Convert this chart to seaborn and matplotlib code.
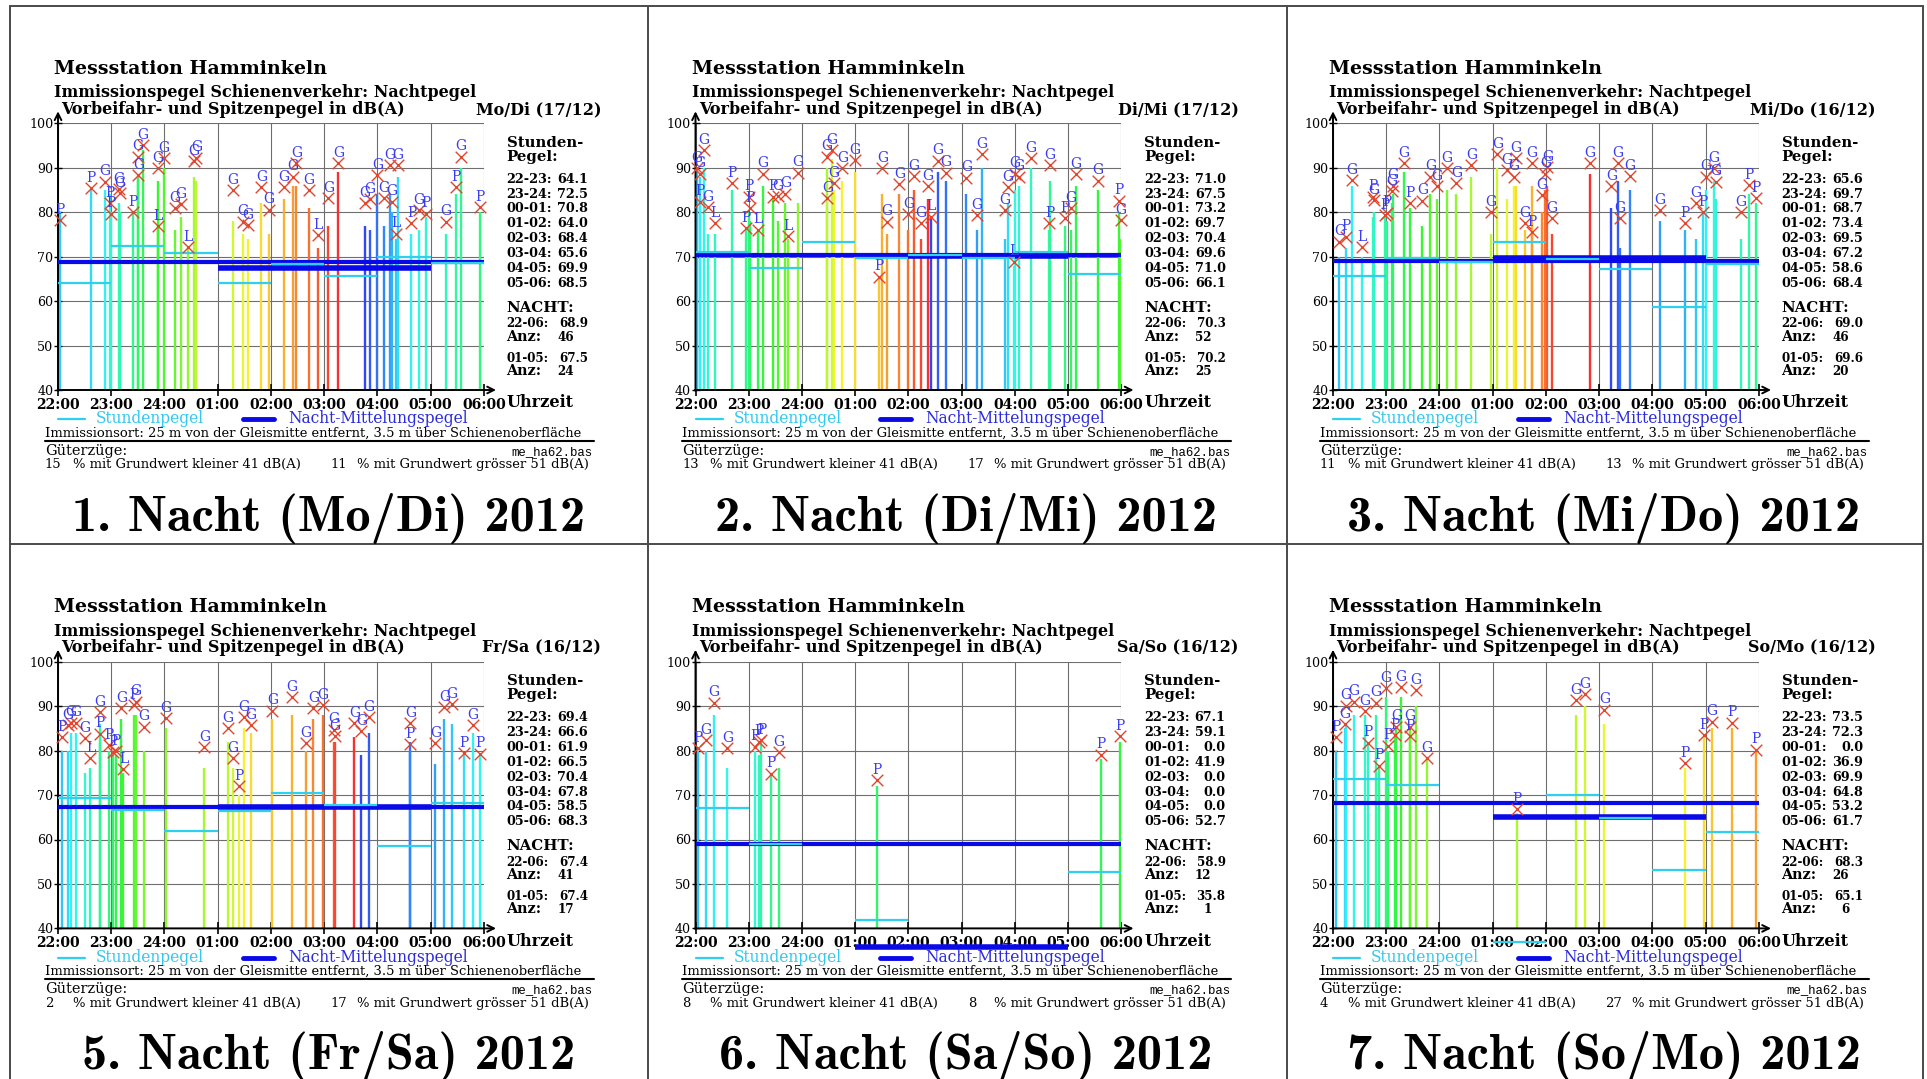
import colorsys
import numpy as np
import pandas as pd
import matplotlib
matplotlib.use("Agg")
import matplotlib.pyplot as plt
from matplotlib.lines import Line2D
import seaborn as sns

sns.set_theme(style="white", rc={"text.color": "black", "xtick.color": "black",
                                 "ytick.color": "black", "axes.labelcolor": "black"})
SERIF = ["DejaVu Serif", "Liberation Serif"]
plt.rcParams["font.family"] = SERIF

# ---------------- data ----------------
hour_labels = ["22:00", "23:00", "24:00", "01:00", "02:00", "03:00", "04:00", "05:00", "06:00"]
hour_spans = ["22-23", "23-24", "00-01", "01-02", "02-03", "03-04", "04-05", "05-06"]
y_ticks = [40, 50, 60, 70, 80, 90, 100]

night_titles = ["1. Nacht (Mo/Di) 2012", "2. Nacht (Di/Mi) 2012", "3. Nacht (Mi/Do) 2012",
                "5. Nacht (Fr/Sa) 2012", "6. Nacht (Sa/So) 2012", "7. Nacht (So/Mo) 2012"]
night_dates = ["Mo/Di (17/12)", "Di/Mi (17/12)", "Mi/Do (16/12)",
               "Fr/Sa (16/12)", "Sa/So (16/12)", "So/Mo (16/12)"]
night_2206 = [68.9, 70.3, 69.0, 67.4, 58.9, 68.3]
anz_2206 = [46, 52, 46, 41, 12, 26]
night_0105 = [67.5, 70.2, 69.6, 67.4, 35.8, 65.1]
anz_0105 = [24, 25, 20, 17, 1, 6]
gueter_klein = [15, 13, 11, 2, 8, 4]
gueter_gross = [11, 17, 13, 17, 8, 27]

p1_hourly = [64.1, 72.5, 70.8, 64.0, 68.4, 65.6, 69.9, 68.5]
p2_hourly = [71.0, 67.5, 73.2, 69.7, 70.4, 69.6, 71.0, 66.1]
p3_hourly = [65.6, 69.7, 68.7, 73.4, 69.5, 67.2, 58.6, 68.4]
p5_hourly = [69.4, 66.6, 61.9, 66.5, 70.4, 67.8, 58.5, 68.3]
p6_hourly = [67.1, 59.1, 0.0, 41.9, 0.0, 0.0, 0.0, 52.7]
p7_hourly = [73.5, 72.3, 0.0, 36.9, 69.9, 64.8, 53.2, 61.7]

# passages: time (hours after 22:00), peak level, passby level (stem top), train type
p1_time = [0.04, 0.62, 0.88, 0.97, 1.00, 1.15, 1.17, 1.41, 1.50, 1.51, 1.60, 1.87, 1.87, 1.99,
           2.31, 2.45, 2.55, 2.60, 3.29, 3.47, 3.57, 3.82, 3.96, 4.24, 4.42, 4.48, 4.71, 4.89,
           5.08, 5.27, 5.76, 5.86, 6.00, 6.13, 6.23, 6.27, 6.35, 6.39, 6.64, 6.78, 6.92, 7.29,
           7.48, 7.57, 7.93, 2.20]
p1_peak = [78.2, 85.4, 86.9, 82.0, 79.7, 85.2, 84.3, 80.1, 92.5, 88.4, 95.1, 76.9, 89.9, 92.1,
           81.8, 72.2, 91.5, 92.3, 85.0, 77.9, 77.1, 85.7, 80.6, 85.7, 88.0, 91.0, 85.0, 74.9,
           83.1, 91.0, 82.0, 82.9, 88.4, 83.1, 90.6, 82.4, 75.2, 90.6, 77.5, 80.5, 79.7, 77.9,
           85.7, 92.5, 81.2, 81.0]
p1_stem = [80, 85, 85, 84, 80, 82, 80, 80, 88, 88, 94, 77, 87, 90,
           79, 72, 88, 87, 78, 75, 74, 82, 75, 83, 86, 86, 81, 72,
           77, 89, 77, 76, 84, 77, 84, 80, 74, 88, 75, 76, 79, 75,
           84, 90, 80, 76]
p1_kind = "PPGPPGGPGGGLGGGLGGGGGGGGGGGLGGGGGGGGLGPGPGPGPG"

p2_time = [0.03, 0.08, 0.08, 0.16, 0.23, 0.37, 0.69, 0.95, 1.00, 1.03, 1.17, 1.27, 1.45, 1.55,
           1.69, 1.73, 1.92, 2.47, 2.48, 2.56, 2.60, 2.76, 2.99, 3.45, 3.51, 3.59, 3.83, 4.00,
           4.11, 4.24, 4.37, 4.43, 4.55, 4.70, 5.09, 5.29, 5.38, 5.81, 5.87, 5.99, 6.00, 6.08,
           6.30, 6.65, 6.66, 6.94, 7.05, 7.15, 7.56, 7.95, 7.99]
p2_peak = [89.9, 88.7, 82.4, 94.0, 81.2, 77.6, 86.6, 76.4, 83.5, 80.9, 76.1, 88.7, 83.5, 83.6,
           84.2, 74.6, 88.9, 92.5, 83.1, 94.0, 86.5, 89.9, 91.7, 65.5, 89.9, 77.9, 86.4, 79.6,
           88.1, 77.6, 85.9, 79.0, 91.6, 88.9, 87.8, 79.4, 93.0, 80.5, 85.7, 68.9, 88.7, 88.0,
           92.1, 77.5, 90.6, 78.6, 80.9, 88.6, 87.1, 82.6, 78.2]
p2_stem = [90, 88, 82, 90, 75, 75, 85, 76, 80, 78, 76, 86, 83, 78,
           82, 74, 82, 90, 83, 92, 85, 87, 89, 65, 84, 75, 84, 76,
           85, 74, 83, 79, 89, 87, 84, 76, 90, 74, 82, 68, 85, 86,
           90, 76, 87, 77, 76, 86, 85, 80, 74]
p2_kind = "GGPGGLPPPPLGPGGLGGGGGGGPGGGGGGGLGGGGGGGLGGGPGPGGGPG"

p3_time = [0.12, 0.25, 0.35, 0.54, 0.75, 0.77, 0.98, 1.02, 1.11, 1.12, 1.33, 1.45, 1.68, 1.83,
           1.95, 2.14, 2.32, 2.60, 2.97, 3.09, 3.26, 3.40, 3.43, 3.61, 3.73, 3.74, 3.93, 3.99,
           4.03, 4.11, 4.82, 5.23, 5.36, 5.39, 5.58, 6.14, 6.62, 6.82, 6.95, 7.01, 7.16, 7.19,
           7.67, 7.82, 7.94]
p3_peak = [73.4, 74.5, 87.2, 72.2, 83.5, 82.7, 79.4, 79.9, 84.8, 86.0, 91.0, 82.0, 82.6, 88.0,
           85.9, 89.9, 86.5, 90.6, 80.1, 93.1, 89.5, 88.0, 92.1, 77.5, 91.0, 75.6, 83.9, 88.7,
           90.2, 78.6, 91.0, 85.9, 91.0, 78.6, 88.1, 80.5, 77.5, 82.0, 80.1, 88.0, 89.9, 86.9,
           80.0, 86.1, 83.1]
p3_stem = [70, 72, 86, 70, 79, 80, 79, 78, 82, 84, 89, 81, 77, 84,
           83, 85, 84, 88, 75, 90, 83, 86, 86, 76, 86, 75, 80, 85,
           86, 75, 88.5, 81, 87, 72, 85, 78, 76, 74, 80, 85, 87, 83,
           74, 84, 82]
p3_kind = "GPGLPGPPGGGPGGGGGGGGGGGGGPGGGGGGGGGGPGPGGGGPP"

p5_time = [0.08, 0.18, 0.25, 0.33, 0.51, 0.61, 0.78, 0.78, 0.95, 1.03, 1.09, 1.19, 1.23, 1.42,
           1.46, 1.62, 2.02, 2.75, 3.19, 3.29, 3.40, 3.50, 3.62, 4.03, 4.40, 4.66, 4.80, 4.97,
           5.18, 5.20, 5.57, 5.70, 5.84, 6.62, 6.62, 7.09, 7.26, 7.40, 7.62, 7.79, 7.93]
p5_peak = [83.0, 85.8, 86.3, 86.3, 82.8, 78.3, 88.6, 83.8, 81.3, 79.6, 79.8, 89.5, 75.8, 90.3,
           91.0, 85.4, 87.3, 80.8, 85.0, 78.3, 72.0, 87.5, 85.8, 89.0, 92.1, 81.7, 89.5, 90.3,
           84.7, 83.2, 86.2, 84.3, 87.5, 86.2, 81.5, 81.7, 89.7, 90.5, 79.4, 85.8, 79.3]
p5_stem = [80, 80, 84, 84, 75, 76, 86, 82, 80, 79, 79, 87, 75, 88,
           88, 80, 85, 76, 82, 76, 70, 85, 84, 87, 88, 80, 87, 88,
           82, 82, 83, 79, 84, 82, 80, 77, 87, 86, 79, 84, 79]
p5_kind = "PGGGGLGPPPPGLPGGGGGGPGGGGGGGGGGGGGPGGGPGP"

p6_time = [0.04, 0.19, 0.35, 0.60, 1.12, 1.19, 1.24, 1.42, 1.57, 3.41, 7.61, 7.97]
p6_peak = [80.6, 82.3, 90.8, 80.6, 80.9, 82.0, 82.4, 74.8, 79.6, 73.4, 79.1, 83.3]
p6_stem = [80, 80, 88, 76, 80, 79, 82, 75, 76, 72, 78, 82]
p6_kind = "PGGGPPPPGPPP"

p7_time = [0.05, 0.23, 0.25, 0.39, 0.60, 0.65, 0.81, 0.87, 1.00, 1.04, 1.17, 1.19, 1.27, 1.45,
           1.45, 1.56, 1.77, 3.45, 4.56, 4.73, 5.10, 6.62, 6.97, 7.12, 7.50, 7.94]
p7_peak = [83.0, 86.0, 90.1, 91.0, 88.8, 81.8, 90.8, 76.6, 94.0, 81.1, 83.5, 85.4, 94.2, 83.2,
           85.4, 93.6, 78.3, 66.9, 91.4, 92.7, 89.2, 77.2, 83.5, 86.5, 86.3, 80.2]
p7_stem = [80, 85, 86, 88, 88, 82, 88, 76, 92, 80, 84, 85, 92, 83,
           85, 90, 78, 66, 88, 90, 86, 76, 83, 85, 85, 80]
p7_kind = "PGGGGPGPGPPGGPGGGPGGGPPGPP"

panel_times = [p1_time, p2_time, p3_time, p5_time, p6_time, p7_time]
panel_peaks = [p1_peak, p2_peak, p3_peak, p5_peak, p6_peak, p7_peak]
panel_stems = [p1_stem, p2_stem, p3_stem, p5_stem, p6_stem, p7_stem]
panel_kinds = [p1_kind, p2_kind, p3_kind, p5_kind, p6_kind, p7_kind]
panel_hourly = [p1_hourly, p2_hourly, p3_hourly, p5_hourly, p6_hourly, p7_hourly]

# ---------------- figure ----------------
W, H = 1927, 1079
fig = plt.figure(figsize=(W / 100, H / 100), dpi=100)
fig.patch.set_facecolor("white")
renderer = fig.canvas.get_renderer()

CYAN = "#2ed0ee"
BLUE = "#0a0ae8"
LETTER = "#3b3bf0"
XRED = "#e0452e"
MONO = ["Liberation Mono", "DejaVu Sans Mono"]
BIGF = ["cmb10", "DejaVu Serif"]


def size_for(s, width, weight="normal", family=None):
    t = fig.text(0, 0, s, fontsize=10, fontweight=weight, family=family or SERIF)
    w = t.get_window_extent(renderer=renderer).width
    t.remove()
    return 10.0 * width / w


def ftext(x, y, s, **kw):
    kw.setdefault("va", "baseline")
    kw.setdefault("ha", "left")
    fig.text(x / W, 1 - y / H, s, **kw)


def fline(x0, x1, y0, y1, **kw):
    fig.add_artist(Line2D([x0 / W, x1 / W], [1 - y0 / H, 1 - y1 / H],
                          transform=fig.transFigure, **kw))


fs_t1 = size_for("Messstation Hamminkeln", 275, "bold")
fs_t2 = size_for("Immissionspegel Schienenverkehr: Nachtpegel", 425, "bold")
fs_stunden = size_for("Stunden-", 76, "bold")
fs_list = size_for("22-23: 64.1", 81, "bold")
fs_nacht = size_for("NACHT:", 68, "bold")
fs_anz = size_for("Anz:", 35, "bold")
fs_uhr = size_for("Uhrzeit", 67, "bold")
fs_xt = size_for("22:00", 44, "bold")
fs_yt = size_for("100", 24)
fs_leg = size_for("Nacht-Mittelungspegel", 182)
fs_imm = size_for("Immissionsort: 25 m von der Gleismitte entfernt, 3.5 m über Schienenoberfläche", 540)
fs_gue = size_for("Güterzüge:", 82)
fs_pct = size_for("% mit Grundwert kleiner 41 dB(A)", 230)
fs_mono = size_for("me_ha62.bas", 82, family=MONO)
fs_big = size_for("1. Nacht (Mo/Di) 2012", 512, family=BIGF)

# frame lines
border = dict(color="#4a4a4a", lw=1.4)
fline(10, 1923, 6, 6, **border)
fline(10, 1923, 544.3, 544.3, **border)
for xb in [10, 648.3, 1286.6, 1922.5]:
    fline(xb, xb, 6, 1079, **border)

for k in range(6):
    col, row = k % 3, k // 3
    dx, dy = col * 637.5, row * 538.4
    L, R, T, B = 58.0 + dx, 483.8 + dx, 123.3 + dy, 390.0 + dy
    ax = fig.add_axes([L / W, 1 - B / H, (R - L) / W, (B - T) / H])
    ax.set_facecolor("none")

    df = pd.DataFrame({"t": panel_times[k], "peak": panel_peaks[k],
                       "stem": panel_stems[k], "kind": list(panel_kinds[k])})
    df = df.sort_values("t", kind="stable").reset_index(drop=True)
    n = len(df)
    stem_cols = [colorsys.hsv_to_rgb(((195 - 6.5 * i) % 240) / 360, 0.8, 0.97) for i in range(n)]

    ax.vlines(df["t"], 40, df["stem"], colors=stem_cols, lw=1.7, zorder=2)

    hv = np.array(panel_hourly[k])
    hs = np.arange(8)
    m = hv > 0
    ax.hlines(night_2206[k], 0, 8, color=BLUE, lw=3.0, zorder=4, clip_on=False)
    ax.hlines(night_0105[k], 3, 7, color=BLUE, lw=4.0, zorder=4, clip_on=False)
    ax.hlines(hv[m], hs[m], hs[m] + 1, color=CYAN, lw=1.6, zorder=5, clip_on=False)

    sns.scatterplot(data=df, x="t", y="peak", marker="x", color=XRED, s=70,
                    linewidth=1.0, ax=ax, zorder=6, legend=False, clip_on=False)
    for _, r in df.iterrows():
        ax.text(r["t"], r["peak"] + 2.3, r["kind"], color=LETTER, ha="center", va="center",
                fontsize=10, zorder=7)

    ax.set_xlim(0, 8)
    ax.set_ylim(40, 100)
    ax.set_xlabel("")
    ax.set_ylabel("")
    for s in ax.spines.values():
        s.set_visible(False)
    ax.set_xticks(range(9))
    ax.set_xticklabels(hour_labels, fontsize=fs_xt, fontweight="bold")
    ax.set_yticks(y_ticks)
    ax.set_yticklabels([str(v) for v in y_ticks], fontsize=fs_yt)
    ax.tick_params(axis="x", direction="inout", length=8, width=1.2, pad=1.5, bottom=True)
    ax.tick_params(axis="y", direction="inout", length=6, width=1.0, pad=0.3, left=True)
    ax.grid(True, color="#6e6e6e", lw=0.8)
    ax.set_axisbelow(True)

    ax.annotate("", xy=(0, 102.7), xytext=(0, 39.8), annotation_clip=False,
                arrowprops=dict(arrowstyle="->", color="black", lw=1.4, shrinkA=0, shrinkB=0,
                                mutation_scale=12))
    ax.annotate("", xy=(8.23, 40), xytext=(-0.01, 40), annotation_clip=False,
                arrowprops=dict(arrowstyle="->", color="black", lw=1.4, shrinkA=0, shrinkB=0,
                                mutation_scale=12))

    # titles
    ftext(54 + dx, 74 + dy, "Messstation Hamminkeln", fontsize=fs_t1, fontweight="bold")
    ftext(54 + dx, 97.3 + dy, "Immissionspegel Schienenverkehr: Nachtpegel", fontsize=fs_t2,
          fontweight="bold")
    ftext(61.4 + dx, 114 + dy, "Vorbeifahr- und Spitzenpegel in dB(A)", fontsize=fs_t2,
          fontweight="bold")
    ftext(601 + dx, 114 + dy, night_dates[k], fontsize=fs_t2, fontweight="bold", ha="right")

    # right side block
    xl, xv, xa = 506.6 + dx, 588 + dx, 574 + dx
    ftext(xl, 146.7 + dy, "Stunden-", fontsize=fs_stunden, fontweight="bold")
    ftext(xl, 160.7 + dy, "Pegel:", fontsize=fs_stunden, fontweight="bold")
    for i, v in enumerate(panel_hourly[k]):
        yy = 182.7 + 14.9 * i + dy
        ftext(xl, yy, hour_spans[i] + ":", fontsize=fs_list, fontweight="bold")
        ftext(xv, yy, f"{v:.1f}", fontsize=fs_list, fontweight="bold", ha="right")
    fs_small = fs_list * 0.93
    ftext(xl, 311.7 + dy, "NACHT:", fontsize=fs_nacht, fontweight="bold")
    ftext(xl, 327.3 + dy, "22-06:", fontsize=fs_small, fontweight="bold")
    ftext(xv, 327.3 + dy, f"{night_2206[k]:.1f}", fontsize=fs_small, fontweight="bold", ha="right")
    ftext(xl, 340.7 + dy, "Anz:", fontsize=fs_anz, fontweight="bold")
    ftext(xa, 340.7 + dy, str(anz_2206[k]), fontsize=fs_small, fontweight="bold", ha="right")
    ftext(xl, 361.7 + dy, "01-05:", fontsize=fs_small, fontweight="bold")
    ftext(xv, 361.7 + dy, f"{night_0105[k]:.1f}", fontsize=fs_small, fontweight="bold", ha="right")
    ftext(xl, 375 + dy, "Anz:", fontsize=fs_anz, fontweight="bold")
    ftext(xa, 375 + dy, str(anz_0105[k]), fontsize=fs_small, fontweight="bold", ha="right")

    ftext(xl, 407.3 + dy, "Uhrzeit", fontsize=fs_uhr, fontweight="bold")

    # legend
    fline(58 + dx, 85 + dx, 419.3 + dy, 419.3 + dy, color=CYAN, lw=1.6)
    ftext(96.2 + dx, 423.3 + dy, "Stundenpegel", fontsize=fs_leg, color="#33c8ee")
    fline(242.5 + dx, 273.6 + dx, 419.3 + dy, 419.3 + dy, color=BLUE, lw=3.5)
    ftext(288.1 + dx, 423.3 + dy, "Nacht-Mittelungspegel", fontsize=fs_leg, color="#2a2ae0")

    # footer
    ftext(44.8 + dx, 436.7 + dy, "Immissionsort: 25 m von der Gleismitte entfernt, "
          "3.5 m über Schienenoberfläche", fontsize=fs_imm)
    fline(44.8 + dx, 593.7 + dx, 440.7 + dy, 440.7 + dy, color="black", lw=1.5)
    ftext(44.8 + dx, 455 + dy, "Güterzüge:", fontsize=fs_gue)
    ftext(592.9 + dx, 455 + dy, "me_ha62.bas", fontsize=fs_mono, ha="right", family=MONO)
    ftext(44.8 + dx, 468.3 + dy, str(gueter_klein[k]), fontsize=fs_pct)
    ftext(72.6 + dx, 468.3 + dy, "% mit Grundwert kleiner 41 dB(A)", fontsize=fs_pct)
    ftext(330.4 + dx, 468.3 + dy, str(gueter_gross[k]), fontsize=fs_pct)
    ftext(356.6 + dx, 468.3 + dy, "% mit Grundwert grösser 51 dB(A)", fontsize=fs_pct)

    ftext(328.6 + dx, 530.5 + dy, night_titles[k], fontsize=fs_big, ha="center", family=BIGF)

fig.savefig("out.png", dpi=100, facecolor="white")
